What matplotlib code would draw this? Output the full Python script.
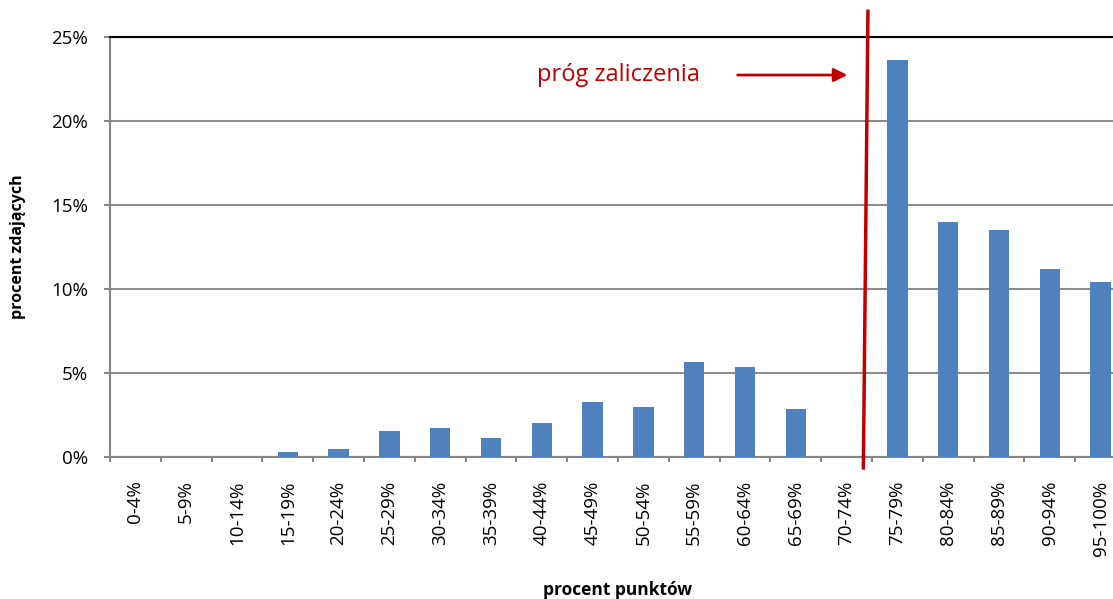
import numpy as np
import matplotlib.pyplot as plt
from matplotlib.ticker import FuncFormatter

przedzialy = ["0-4%", "5-9%", "10-14%", "15-19%", "20-24%", "25-29%", "30-34%",
              "35-39%", "40-44%", "45-49%", "50-54%", "55-59%", "60-64%",
              "65-69%", "70-74%", "75-79%", "80-84%", "85-89%", "90-94%",
              "95-100%"]
procent_zdajacych = [0.0, 0.0, 0.0, 0.3, 0.48, 1.55, 1.73, 1.13, 2.02, 3.27,
                     2.98, 5.65, 5.36, 2.86, 0.0, 23.63, 13.99, 13.51, 11.19,
                     10.42]

# linia progu (lekko pochylona, wychodzi poza obszar wykresu)
prog_x = [14.33, 14.42]
prog_y = [-0.65, 26.5]

plt.rcParams['font.family'] = ['Open Sans', 'DejaVu Sans']

fig = plt.figure(figsize=(11.13, 5.99), dpi=100)
ax = fig.add_axes([110 / 1113, 142 / 599, 1016 / 1113, 420.5 / 599])

x = np.arange(len(przedzialy))
ax.bar(x, procent_zdajacych, width=0.4, color='#4F81BD', zorder=3)

ax.set_xlim(-0.5, len(przedzialy) - 0.5)
ax.set_ylim(0, 25)
ax.set_yticks([0, 5, 10, 15, 20, 25])
ax.yaxis.set_major_formatter(FuncFormatter(lambda v, p: '%d%%' % v))
ax.set_xticks(np.arange(-0.5, len(przedzialy), 1.0))
ax.set_xticklabels([])
ax.set_xticks(x, minor=True)
ax.set_xticklabels(przedzialy, minor=True, rotation=90, ha='center', va='top',
                   fontsize=13.5)
ax.tick_params(axis='x', which='minor', length=0, pad=17)
ax.tick_params(axis='x', which='major', length=3.6, width=1.5, color='#868686')
ax.tick_params(axis='y', length=4.3, width=1.5, color='#868686', labelsize=13.5,
               pad=11.5)

ax.yaxis.grid(True, color='#8c8c8c', linewidth=1.5, zorder=0)
for s in ['top', 'right']:
    ax.spines[s].set_visible(False)
for s in ['left', 'bottom']:
    ax.spines[s].set_color('#868686')
    ax.spines[s].set_linewidth(1.5)
ax.axhline(25, color='black', linewidth=1.5, zorder=4, clip_on=False)

ax.plot(prog_x, prog_y, color='#C00000', linewidth=2.5, clip_on=False, zorder=5)
ax.annotate('', xy=(14.07, 22.71), xytext=(11.8, 22.71),
            arrowprops=dict(arrowstyle='-|>', color='#C00000', lw=2,
                            mutation_scale=20))
ax.text(9.51, 22.71, 'próg zaliczenia', color='#C00000', fontsize=17,
        ha='center', va='center')

ax.set_ylabel('procent zdających', fontsize=11.5, fontweight='bold')
ax.yaxis.set_label_coords(-84 / 1016, 0.5)
fig.text(618 / 1113, 1 - 590 / 599, 'procent punktów', fontsize=12.5,
         fontweight='bold', ha='center', va='center')

fig.savefig('out.png', dpi=100)
